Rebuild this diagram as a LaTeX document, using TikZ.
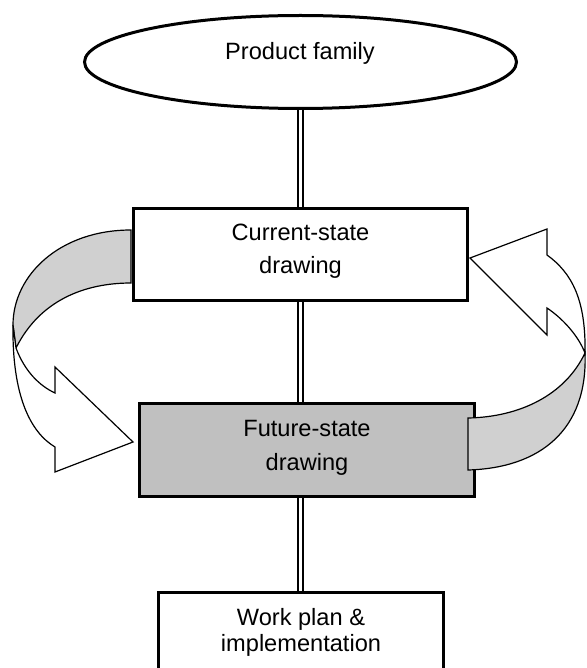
\documentclass[tikz,border=0pt]{standalone}
\usepackage{fontspec}
\setmainfont{Liberation Sans}
\usetikzlibrary{shapes.geometric}
\definecolor{futfill}{HTML}{C0C0C0}
\definecolor{bandfill}{HTML}{D0D0D0}
\begin{document}
\begin{tikzpicture}[x=1pt,y=-1pt,
  boxstyle/.style={draw, line width=3pt, rectangle, inner sep=0pt},
  lbl/.style={anchor=base, inner sep=0pt, font=\fontsize{23.6}{28}\selectfont},
  dbl/.style={double, double distance=2.4pt, line width=2.1pt},
  bandgray/.style={draw, line width=1.2pt, fill=bandfill, line join=miter},
  bandwhite/.style={draw, line width=1.2pt, fill=white, line join=miter}]
\useasboundingbox (0,0) rectangle (586,668);
\clip (0,0) rectangle (586,668);

% ellipse
\node[ellipse, draw, line width=3pt, minimum width=432pt, minimum height=93pt, inner sep=0pt] (pf) at (300.5,62) {};
% future box
\node[boxstyle, fill=futfill, minimum width=335pt, minimum height=93pt] (fut) at (307,450) {};

% left curved arrow
\path[bandgray] (131,230) .. controls (60,230) and (13,275) .. (13,325)
   -- (16,348) .. controls (40,300) and (85,283) .. (131,283) -- cycle;
\path[bandwhite] (16,348) .. controls (25,372) and (40,386) .. (55,393)
   -- (55,367) -- (133,442) -- (55,472) -- (55,447)
   .. controls (30,432) and (12,395) .. (13,325) -- cycle;

% right curved arrow
\path[bandwhite] (547,255) .. controls (572,273) and (586,300) .. (585,353)
   .. controls (578,335) and (562,318) .. (547,308)
   -- (547,335) -- (470,258) -- (547,229) -- cycle;
\path[bandgray] (585,353) .. controls (565,395) and (520,417) .. (468,418)
   -- (468,470) .. controls (540,468) and (588,430) .. (585,353) -- cycle;

% current box
\node[boxstyle, fill=white, minimum width=334pt, minimum height=92pt] (cur) at (300.5,254.5) {};
% work box
\node[boxstyle, fill=white, minimum width=285pt, minimum height=127.5pt] (work) at (301,656.25) {};

% texts
\node[lbl] (pft) at (300,60) {Product family};
\node[lbl] (cur1) at (300.5,240) {Current-state};
\node[lbl] (cur2) at (300.5,273) {drawing};
\node[lbl] (fut1) at (307,436) {Future-state};
\node[lbl] (fut2) at (307,470) {drawing};
\node[lbl] (work1) at (301,625) {Work plan \&};
\node[lbl] (work2) at (301,651) {implementation};

% double connectors
\draw[dbl] (pf.south) -- (cur.north);
\draw[dbl] (cur.south) -- (cur.south |- fut.north);
\draw[dbl] (cur.south |- fut.south) -- (cur.south |- work.north);
\end{tikzpicture}
\end{document}
